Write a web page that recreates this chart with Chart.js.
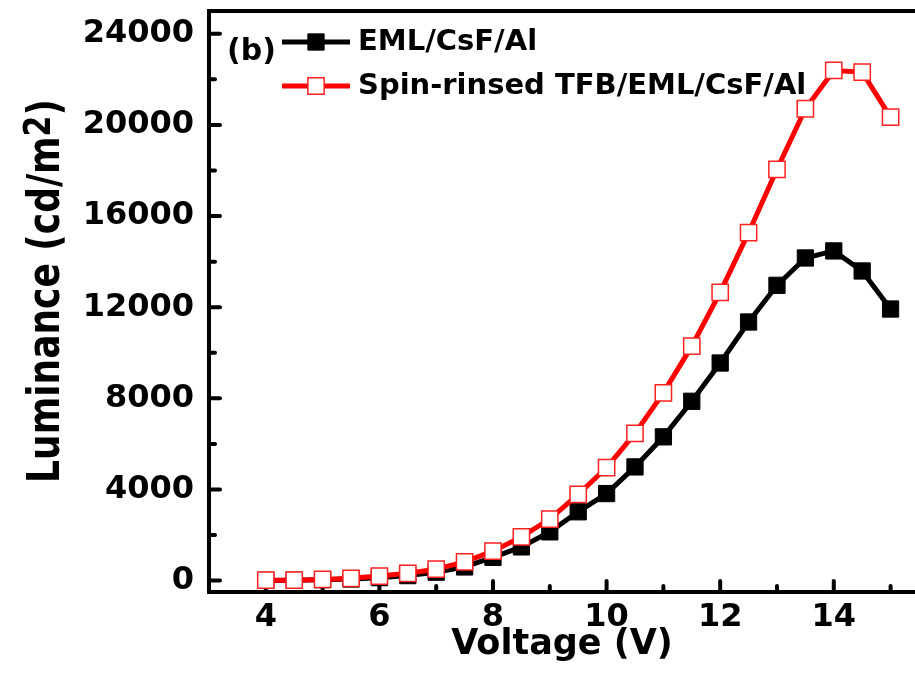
<!DOCTYPE html>
<html>
<head>
<meta charset="utf-8">
<title>Luminance vs Voltage</title>
<script src="https://cdn.jsdelivr.net/npm/chart.js@4.4.1/dist/chart.umd.min.js"></script>
<style>
  html, body { margin: 0; padding: 0; background: #fff; overflow: hidden; }
  #wrap { position: relative; width: 915px; height: 693px; }
</style>
</head>
<body>
<div id="wrap"><canvas id="c" width="915" height="693"></canvas></div>
<script>
// Applied voltage (V)
const voltage = [4, 4.5, 5, 5.5, 6, 6.5, 7, 7.5, 8, 8.5, 9, 9.5, 10, 10.5, 11, 11.5, 12, 12.5, 13, 13.5, 14, 14.5, 15];
// Luminance (cd/m2) of the two device structures
const lumEml = [10, 20, 40, 70, 130, 220, 370, 600, 1020, 1480, 2140, 3020, 3820, 4990, 6310, 7870, 9550, 11350, 12960, 14160, 14470, 13590, 11920];
const lumTfb = [20, 20, 50, 100, 200, 320, 500, 825, 1290, 1920, 2700, 3780, 4960, 6460, 8240, 10290, 12650, 15270, 18050, 20710, 22390, 22320, 20340];

const seriesLabels = ['EML/CsF/Al', 'Spin-rinsed TFB/EML/CsF/Al'];
const panelTag = '(b)';

// Axis ticks
const xTicks = [4, 6, 8, 10, 12, 14];
const xMinorTicks = [5, 7, 9, 11, 13, 15];
const yTicks = [0, 4000, 8000, 12000, 16000, 20000, 24000];
const yMinorTicks = [2000, 6000, 10000, 14000, 18000, 22000];

const xTitle = 'Voltage (V)';
const yTitleParts = ['Luminance (cd/m', '2', ')'];

const FONT = '"DejaVu Sans", sans-serif';
const toPoints = ys => voltage.map((v, i) => ({ x: v, y: ys[i] }));

// Inward tick marks on the frame plus the top frame line
const frameTicks = {
  id: 'frameTicks',
  beforeDatasetsDraw(chart) {
    const { ctx, chartArea: a, scales: { x, y } } = chart;
    const seg = (x1, y1, x2, y2) => { ctx.beginPath(); ctx.moveTo(x1, y1); ctx.lineTo(x2, y2); ctx.stroke(); };
    ctx.save();
    ctx.strokeStyle = '#000';
    ctx.lineWidth = 4;
    ctx.lineCap = 'round';
    const b = a.bottom - 2, l = a.left + 2;
    xTicks.forEach(v => { const p = x.getPixelForValue(v); seg(p, b, p, b - 9); });
    xMinorTicks.forEach(v => { const p = x.getPixelForValue(v); if (p < a.right) seg(p, b, p, b - 4); });
    yTicks.forEach(v => { const p = y.getPixelForValue(v); seg(l, p, l + 9, p); });
    yMinorTicks.forEach(v => { const p = y.getPixelForValue(v); seg(l, p, l + 4, p); });
    ctx.lineCap = 'butt';
    seg(a.left - 2, a.top, a.right, a.top);
    ctx.restore();
  }
};

// Rotated y-axis title with a raised exponent
const yAxisTitle = {
  id: 'yAxisTitle',
  afterDraw(chart) {
    const ctx = chart.ctx;
    const big = `bold 36px ${FONT}`, small = `bold 30px ${FONT}`;
    ctx.save();
    ctx.fillStyle = '#000';
    ctx.textAlign = 'left';
    ctx.textBaseline = 'alphabetic';
    ctx.font = big;
    const w1 = ctx.measureText(yTitleParts[0]).width;
    const w3 = ctx.measureText(yTitleParts[2]).width;
    ctx.font = small;
    const w2 = ctx.measureText(yTitleParts[1]).width;
    const total = w1 + w2 + w3;
    ctx.translate(43, 291);
    ctx.scale(1.22, 1);
    ctx.rotate(-Math.PI / 2);
    const base = 13;
    let px = -total / 2;
    ctx.font = big;  ctx.fillText(yTitleParts[0], px, base); px += w1;
    ctx.font = small; ctx.fillText(yTitleParts[1], px, base - 7); px += w2;
    ctx.font = big;  ctx.fillText(yTitleParts[2], px, base);
    ctx.restore();
  }
};

// Legend drawn inside the plot frame
const innerLegend = {
  id: 'innerLegend',
  afterDraw(chart) {
    const ctx = chart.ctx;
    ctx.save();
    ctx.fillStyle = '#000';
    ctx.textAlign = 'left';
    ctx.textBaseline = 'alphabetic';
    ctx.font = `bold 30px ${FONT}`;
    ctx.fillText(panelTag, 227, 60);
    const rowsY = [42, 86];
    chart.data.datasets.forEach((ds, i) => {
      const yy = rowsY[i];
      ctx.strokeStyle = ds.borderColor;
      ctx.lineWidth = ds.borderWidth;
      ctx.lineCap = 'butt';
      ctx.beginPath(); ctx.moveTo(282, yy); ctx.lineTo(350, yy); ctx.stroke();
      ctx.fillStyle = ds.pointBackgroundColor;
      ctx.strokeStyle = ds.pointBorderColor;
      ctx.lineWidth = ds.pointBorderWidth;
      Chart.helpers.drawPoint(ctx, { pointStyle: 'rect', radius: ds.pointRadius, borderWidth: ds.pointBorderWidth, rotation: 0 }, 316, yy);
      ctx.fillStyle = '#000';
      ctx.font = `bold 29px ${FONT}`;
      ctx.textBaseline = 'middle';
      ctx.fillText(ds.label, 358, yy);
      ctx.textBaseline = 'alphabetic';
    });
    ctx.restore();
  }
};

new Chart(document.getElementById('c'), {
  type: 'line',
  data: {
    datasets: [
      {
        label: seriesLabels[0],
        data: toPoints(lumEml),
        order: 1,
        borderColor: '#000000',
        borderWidth: 5,
        tension: 0,
        pointStyle: 'rect',
        pointRadius: 11.5,
        pointBackgroundColor: '#000000',
        pointBorderColor: '#000000',
        pointBorderWidth: 1
      },
      {
        label: seriesLabels[1],
        data: toPoints(lumTfb),
        order: 0,
        borderColor: '#ff0000',
        borderWidth: 5,
        tension: 0,
        pointStyle: 'rect',
        pointRadius: 11.5,
        pointBackgroundColor: '#ffffff',
        pointBorderColor: '#ff2020',
        pointBorderWidth: 1.5
      }
    ]
  },
  options: {
    responsive: false,
    animation: false,
    devicePixelRatio: 1,
    layout: { autoPadding: false, padding: { top: 11, right: 0, bottom: 0, left: 0 } },
    plugins: { legend: { display: false }, tooltip: { enabled: false } },
    scales: {
      x: {
        type: 'linear',
        min: 3,
        max: 15.43,
        afterBuildTicks: s => { s.ticks = xTicks.map(v => ({ value: v })); },
        afterFit: s => { s.height = 101; s.paddingLeft = 0; s.paddingRight = 0; },
        grid: { display: true, drawOnChartArea: false, drawTicks: false },
        border: { display: true, color: '#000', width: 4 },
        ticks: {
          color: '#000', padding: 6, maxRotation: 0, autoSkip: false,
          font: { family: FONT, size: 32, weight: 'bold' },
          callback: v => String(v)
        },
        title: {
          display: true, text: xTitle, color: '#000',
          font: { family: FONT, size: 35, weight: 'bold' },
          padding: { top: 0, bottom: 27 }
        }
      },
      y: {
        type: 'linear',
        min: -500,
        max: 25000,
        afterBuildTicks: s => { s.ticks = yTicks.map(v => ({ value: v })); },
        afterFit: s => { s.width = 209; s.paddingTop = 0; s.paddingBottom = 0; },
        grid: { display: true, drawOnChartArea: false, drawTicks: false },
        border: { display: true, color: '#000', width: 4 },
        ticks: {
          color: '#000', padding: 15, autoSkip: false,
          font: { family: FONT, size: 32, weight: 'bold' },
          callback: v => String(v)
        }
      }
    }
  },
  plugins: [frameTicks, yAxisTitle, innerLegend]
});
</script>
</body>
</html>
